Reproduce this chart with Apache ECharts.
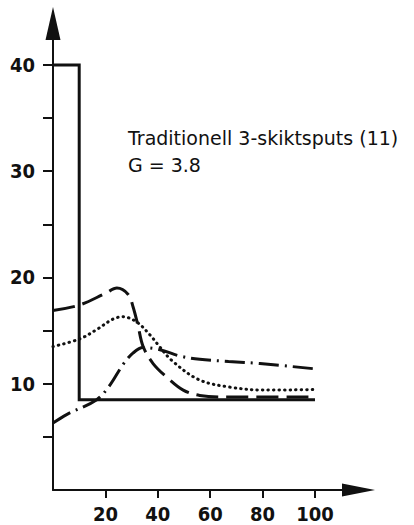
<!DOCTYPE html>
<html>
<head>
<meta charset="utf-8">
<script src="https://cdn.jsdelivr.net/npm/echarts@6/dist/echarts.min.js"></script>
<style>
  html, body { margin: 0; padding: 0; background: #fff; }
  #chart { width: 414px; height: 525px; }
</style>
</head>
<body>
<div id="chart"></div>
<script>
// values (x: 0..100, y: value)
var solidLine = [[0, 40], [10, 40], [10, 8.5], [100, 8.5]];
var dashedLine = [[0, 16.9], [10, 17.4], [20, 18.5], [24.4, 19.0], [28.7, 18.4], [30.6, 17.2],
  [32.5, 15.4], [34.4, 13.5], [38.2, 11.9], [43.5, 10.6], [49.7, 9.4], [56, 8.9], [65, 8.75], [100, 8.75]];
var dottedLine = [[0, 13.5], [10, 14.2], [16.7, 15.1], [23, 16.1], [26.7, 16.3], [32, 15.8],
  [37, 14.6], [40, 13.7], [45.3, 12.2], [55.5, 10.4], [67, 9.7], [81, 9.4], [100, 9.45]];
var dashDotLine = [[0, 6.3], [5.2, 7.1], [16.7, 8.5], [21.8, 9.9], [26.7, 11.8], [30.6, 12.9],
  [34.4, 13.4], [40.8, 13.2], [48.5, 12.6], [56, 12.3], [67, 12.1], [79, 11.9], [100, 11.4]];
var xTicks = [20, 40, 60, 80, 100];
var yTicks = [5, 10, 15, 20, 25, 30, 35, 40];
var yLabels = [10, 20, 30, 40];
var titleText = 'Traditionell 3-skiktsputs (11)\nG = 3.8';

var ink = '#111';
var font = '"DejaVu Sans Condensed", "DejaVu Sans", sans-serif';

var chart = echarts.init(document.getElementById('chart'), null, { renderer: 'svg' });
chart.setOption({
  animation: false,
  backgroundColor: '#fff',
  title: {
    text: titleText,
    left: 123,
    top: 119,
    textStyle: { color: ink, fontFamily: '"DejaVu Sans", sans-serif', fontSize: 19, fontWeight: 'normal', lineHeight: 27 }
  },
  grid: { left: 53, right: 55.5, top: 23.5, bottom: 35 },
  xAxis: {
    type: 'value',
    min: 0,
    max: 116.6,
    splitLine: { show: false },
    axisLine: {
      lineStyle: { color: ink, width: 2 },
      symbol: ['none', 'triangle'],
      symbolSize: [13, 33]
    },
    axisTick: { customValues: xTicks, length: 8, lineStyle: { color: ink, width: 2 } },
    axisLabel: {
      customValues: xTicks,
      margin: 14,
      color: ink,
      fontFamily: font,
      fontWeight: 'bold',
      fontSize: 20
    }
  },
  yAxis: {
    type: 'value',
    min: 0,
    max: 43.9,
    splitLine: { show: false },
    axisLine: {
      lineStyle: { color: ink, width: 2 },
      symbol: ['none', 'triangle'],
      symbolSize: [15, 33]
    },
    axisTick: { customValues: yTicks, length: 10, lineStyle: { color: ink, width: 2 } },
    axisLabel: {
      customValues: yLabels,
      margin: 18,
      color: ink,
      fontFamily: font,
      fontWeight: 'bold',
      fontSize: 20
    }
  },
  series: [
    {
      type: 'line',
      data: solidLine,
      symbol: 'none',
      lineStyle: { color: ink, width: 3, join: 'miter' }
    },
    {
      type: 'line',
      data: dashedLine,
      symbol: 'none',
      smooth: 0.35,
      lineStyle: { color: ink, width: 3, type: [22, 8] }
    },
    {
      type: 'line',
      data: dottedLine,
      symbol: 'none',
      smooth: 0.35,
      lineStyle: { color: ink, width: 3, type: [0.5, 5], cap: 'round' }
    },
    {
      type: 'line',
      data: dashDotLine,
      symbol: 'none',
      smooth: 0.35,
      lineStyle: { color: ink, width: 3, type: [20, 6, 2, 6] }
    }
  ]
});
window.addEventListener('resize', function() { chart.resize(); });
</script>
</body>
</html>
